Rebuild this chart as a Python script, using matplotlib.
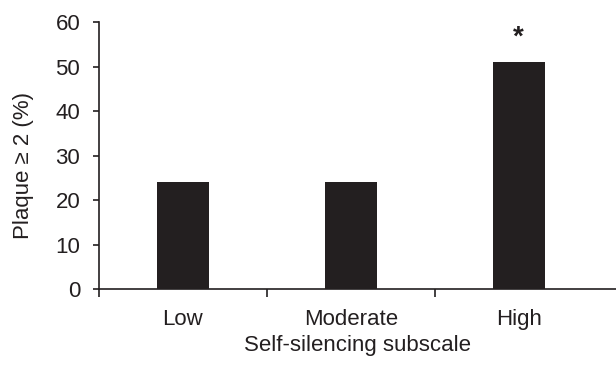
import matplotlib.pyplot as plt
import numpy as np

plt.rcParams['font.family'] = ['Liberation Sans', 'DejaVu Sans']

# 数据
categories = ['Low', 'Moderate', 'High']
plaque_pct = [24.2, 24.2, 51.1]
star_y = 56.6

fig = plt.figure(figsize=(6.16, 3.65), dpi=100)
ax = fig.add_axes([0.1607, 0.2074, 0.8393, 0.7316])

x = np.arange(len(categories))
ax.bar(x, plaque_pct, width=0.31, color='#231f20')
ax.text(x[2], star_y, '*', ha='center', va='center', fontsize=20,
        fontweight='bold', color='#231f20')

ax.set_xlim(-0.5, 2.58)
ax.set_ylim(0, 60)
ax.set_yticks(np.arange(0, 61, 10))

# x 轴刻度放在类别之间
ax.set_xticks([-0.5, 0.5, 1.5])
ax.set_xticklabels([])
ax.set_xticks(x, minor=True)
ax.set_xticklabels(categories, minor=True)
ax.tick_params(axis='x', which='major', direction='out', length=6, width=1.2, color='#231f20')
ax.tick_params(axis='x', which='minor', length=0, pad=14, labelsize=16, labelcolor='#231f20')
ax.tick_params(axis='y', direction='out', length=4.5, width=1.2, pad=9,
               labelsize=16, labelcolor='#231f20', color='#231f20')

for s in ['top', 'right']:
    ax.spines[s].set_visible(False)
for s in ['left', 'bottom']:
    ax.spines[s].set_linewidth(1.2)
    ax.spines[s].set_color('#231f20')

ax.set_ylabel('Plaque \u2265 2 (%)', fontsize=16, color='#231f20', labelpad=15)
ax.yaxis.set_label_coords(-0.125, 0.465)
ax.set_xlabel('Self-silencing subscale', fontsize=16, color='#231f20', labelpad=4)

plt.savefig('out.png', dpi=100)
